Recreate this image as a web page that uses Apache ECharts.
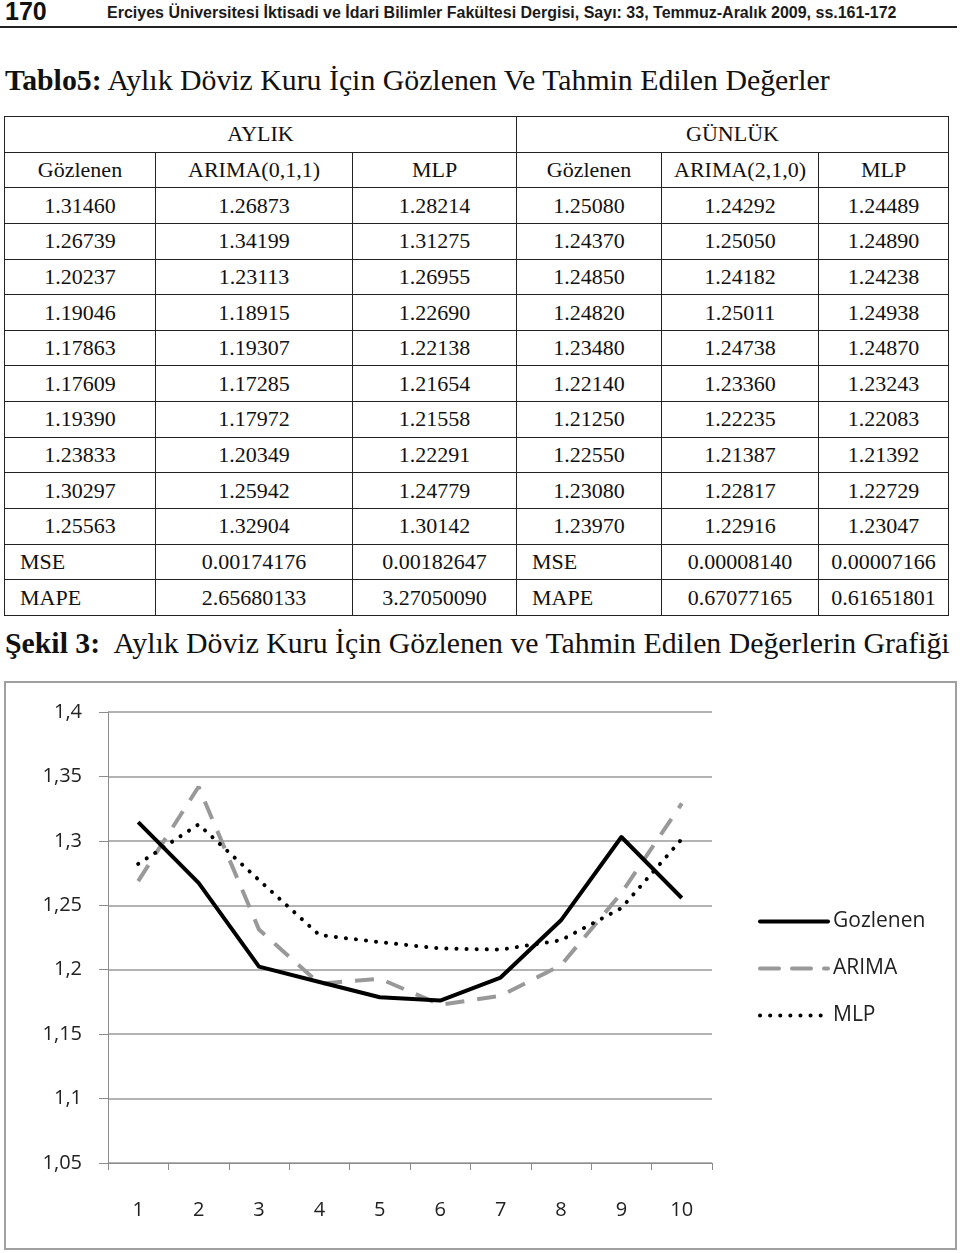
<!DOCTYPE html>
<html>
<head>
<meta charset="utf-8">
<script src="https://cdn.jsdelivr.net/npm/echarts@6/dist/echarts.min.js"></script>
<style>
  html, body { margin: 0; padding: 0; background: #fff; }
  body { width: 960px; height: 1253px; position: relative; overflow: hidden; font-family: "Liberation Serif", "Times New Roman", serif; color: #111; }
  .pageno { position: absolute; left: 5px; top: -3px; font: bold 25px "Liberation Sans", sans-serif; }
  .running { position: absolute; left: 107px; top: 4px; font: bold 16px "Liberation Sans", sans-serif; color: #1a1a1a; white-space: nowrap; }
  .rule { position: absolute; left: 0; top: 26px; width: 957px; height: 2px; background: #222; }
  .caption { position: absolute; left: 5px; font-size: 29.8px; white-space: nowrap; }
  .caption b { font-weight: bold; }
  #tbl { position: absolute; left: 4px; top: 116px; height: 500px; border-collapse: collapse; table-layout: fixed; font-size: 22px; }
  #tbl td { border: 1.5px solid #222; text-align: center; padding: 0; height: 20px; }
  #tbl td.lbl { text-align: left; padding-left: 15px; }
  #chart { position: absolute; left: 0; top: 681px; width: 960px; height: 572px; }
</style>
</head>
<body>
<div class="pageno">170</div>
<div class="running">Erciyes Üniversitesi İktisadi ve İdari Bilimler Fakültesi Dergisi, Sayı: 33, Temmuz-Aralık 2009, ss.161-172</div>
<div class="rule"></div>
<div class="caption" style="top:63px"><b>Tablo5:</b> Aylık Döviz Kuru İçin Gözlenen Ve Tahmin Edilen Değerler</div>
<table id="tbl"></table>
<div class="caption" style="top:626px"><b>Şekil 3:</b>&nbsp; Aylık Döviz Kuru İçin Gözlenen ve Tahmin Edilen Değerlerin Grafiği</div>
<div id="chart"></div>
<script>
// monthly (AYLIK) values, also plotted below
const months = ['1', '2', '3', '4', '5', '6', '7', '8', '9', '10']
const aylikGozlenen = ['1.31460', '1.26739', '1.20237', '1.19046', '1.17863', '1.17609', '1.19390', '1.23833', '1.30297', '1.25563']
const aylikArima = ['1.26873', '1.34199', '1.23113', '1.18915', '1.19307', '1.17285', '1.17972', '1.20349', '1.25942', '1.32904']
const aylikMlp = ['1.28214', '1.31275', '1.26955', '1.22690', '1.22138', '1.21654', '1.21558', '1.22291', '1.24779', '1.30142']
// daily (GÜNLÜK) values, table only
const gunlukGozlenen = ['1.25080', '1.24370', '1.24850', '1.24820', '1.23480', '1.22140', '1.21250', '1.22550', '1.23080', '1.23970']
const gunlukArima = ['1.24292', '1.25050', '1.24182', '1.25011', '1.24738', '1.23360', '1.22235', '1.21387', '1.22817', '1.22916']
const gunlukMlp = ['1.24489', '1.24890', '1.24238', '1.24938', '1.24870', '1.23243', '1.22083', '1.21392', '1.22729', '1.23047']
const aylikMse = ['0.00174176', '0.00182647']
const aylikMape = ['2.65680133', '3.27050090']
const gunlukMse = ['0.00008140', '0.00007166']
const gunlukMape = ['0.67077165', '0.61651801']
const colHeads = ['Gözlenen', 'ARIMA(0,1,1)', 'MLP', 'Gözlenen', 'ARIMA(2,1,0)', 'MLP']
const yTicks = [1.05, 1.1, 1.15, 1.2, 1.25, 1.3, 1.35, 1.4]
const yTickLabels = ['1,05', '1,1', '1,15', '1,2', '1,25', '1,3', '1,35', '1,4']
const legendNames = ['Gozlenen', 'ARIMA', 'MLP']

// table
const colW = [151, 197, 164, 145, 157, 130]
let html = '<colgroup>' + colW.map(w => `<col style="width:${w}px">`).join('') + '</colgroup>'
html += '<tr><td colspan="3">AYLIK</td><td colspan="3">GÜNLÜK</td></tr>'
html += '<tr>' + colHeads.map(h => `<td>${h}</td>`).join('') + '</tr>'
for (let i = 0; i < months.length; i++) {
  const row = [aylikGozlenen[i], aylikArima[i], aylikMlp[i], gunlukGozlenen[i], gunlukArima[i], gunlukMlp[i]]
  html += '<tr>' + row.map(v => `<td>${v}</td>`).join('') + '</tr>'
}
html += `<tr><td class="lbl">MSE</td><td>${aylikMse[0]}</td><td>${aylikMse[1]}</td><td class="lbl">MSE</td><td>${gunlukMse[0]}</td><td>${gunlukMse[1]}</td></tr>`
html += `<tr><td class="lbl">MAPE</td><td>${aylikMape[0]}</td><td>${aylikMape[1]}</td><td class="lbl">MAPE</td><td>${gunlukMape[0]}</td><td>${gunlukMape[1]}</td></tr>`
document.getElementById('tbl').innerHTML = html

// chart
const chart = echarts.init(document.getElementById('chart'), null, { renderer: 'canvas' })
const font = '"Open Sans", Lato, sans-serif'
const tickLabel = v => {
  const i = yTicks.findIndex(t => Math.abs(t - v) < 1e-6)
  return i >= 0 ? yTickLabels[i] : ''
}

chart.setOption({
  animation: false,
  backgroundColor: '#fff',
  graphic: [{
    type: 'rect',
    shape: { x: 5, y: 1, width: 951, height: 567 },
    style: { fill: 'none', stroke: '#a0a0a0', lineWidth: 2 },
  }],
  grid: { left: 108, right: 248, top: 31, bottom: 90 },
  legend: {
    orient: 'vertical',
    left: 753,
    top: 225,
    itemWidth: 68,
    itemHeight: 22,
    itemGap: 26,
    data: legendNames,
    itemStyle: { opacity: 0 },
    lineStyle: { width: 4, cap: 'round' },
    textStyle: { fontFamily: font, fontSize: 21, color: '#222' },
  },
  xAxis: {
    type: 'category',
    data: months,
    boundaryGap: true,
    axisLine: { lineStyle: { color: '#8c8c8c', width: 1 } },
    axisTick: { show: true, length: 7, lineStyle: { color: '#8c8c8c' } },
    axisLabel: { color: '#222', fontFamily: font, fontSize: 20, margin: 37 },
  },
  yAxis: {
    type: 'value',
    min: 1.05,
    max: 1.4,
    interval: 0.05,
    axisLine: { show: true, lineStyle: { color: '#8c8c8c', width: 1 } },
    axisTick: { show: true, length: 9, lineStyle: { color: '#8c8c8c' } },
    splitLine: { lineStyle: { color: '#9a9a9a', width: 1.5 } },
    axisLabel: { color: '#222', fontFamily: font, fontSize: 20, margin: 26, formatter: tickLabel },
  },
  series: [
    {
      name: 'Gozlenen', type: 'line', symbol: 'none',
      data: aylikGozlenen.map(Number),
      lineStyle: { color: '#000', width: 4, join: 'round' },
      itemStyle: { color: '#000' },
      z: 3,
    },
    {
      name: 'ARIMA', type: 'line', symbol: 'none',
      data: aylikArima.map(Number),
      lineStyle: { color: '#999', width: 4, type: [19, 13] },
      itemStyle: { color: '#999' },
      z: 2,
    },
    {
      name: 'MLP', type: 'line', symbol: 'none',
      data: aylikMlp.map(Number),
      lineStyle: { color: '#000', width: 4, type: [0.1, 10], cap: 'round' },
      itemStyle: { color: '#000' },
      z: 2,
    },
  ],
})
</script>
</body>
</html>
